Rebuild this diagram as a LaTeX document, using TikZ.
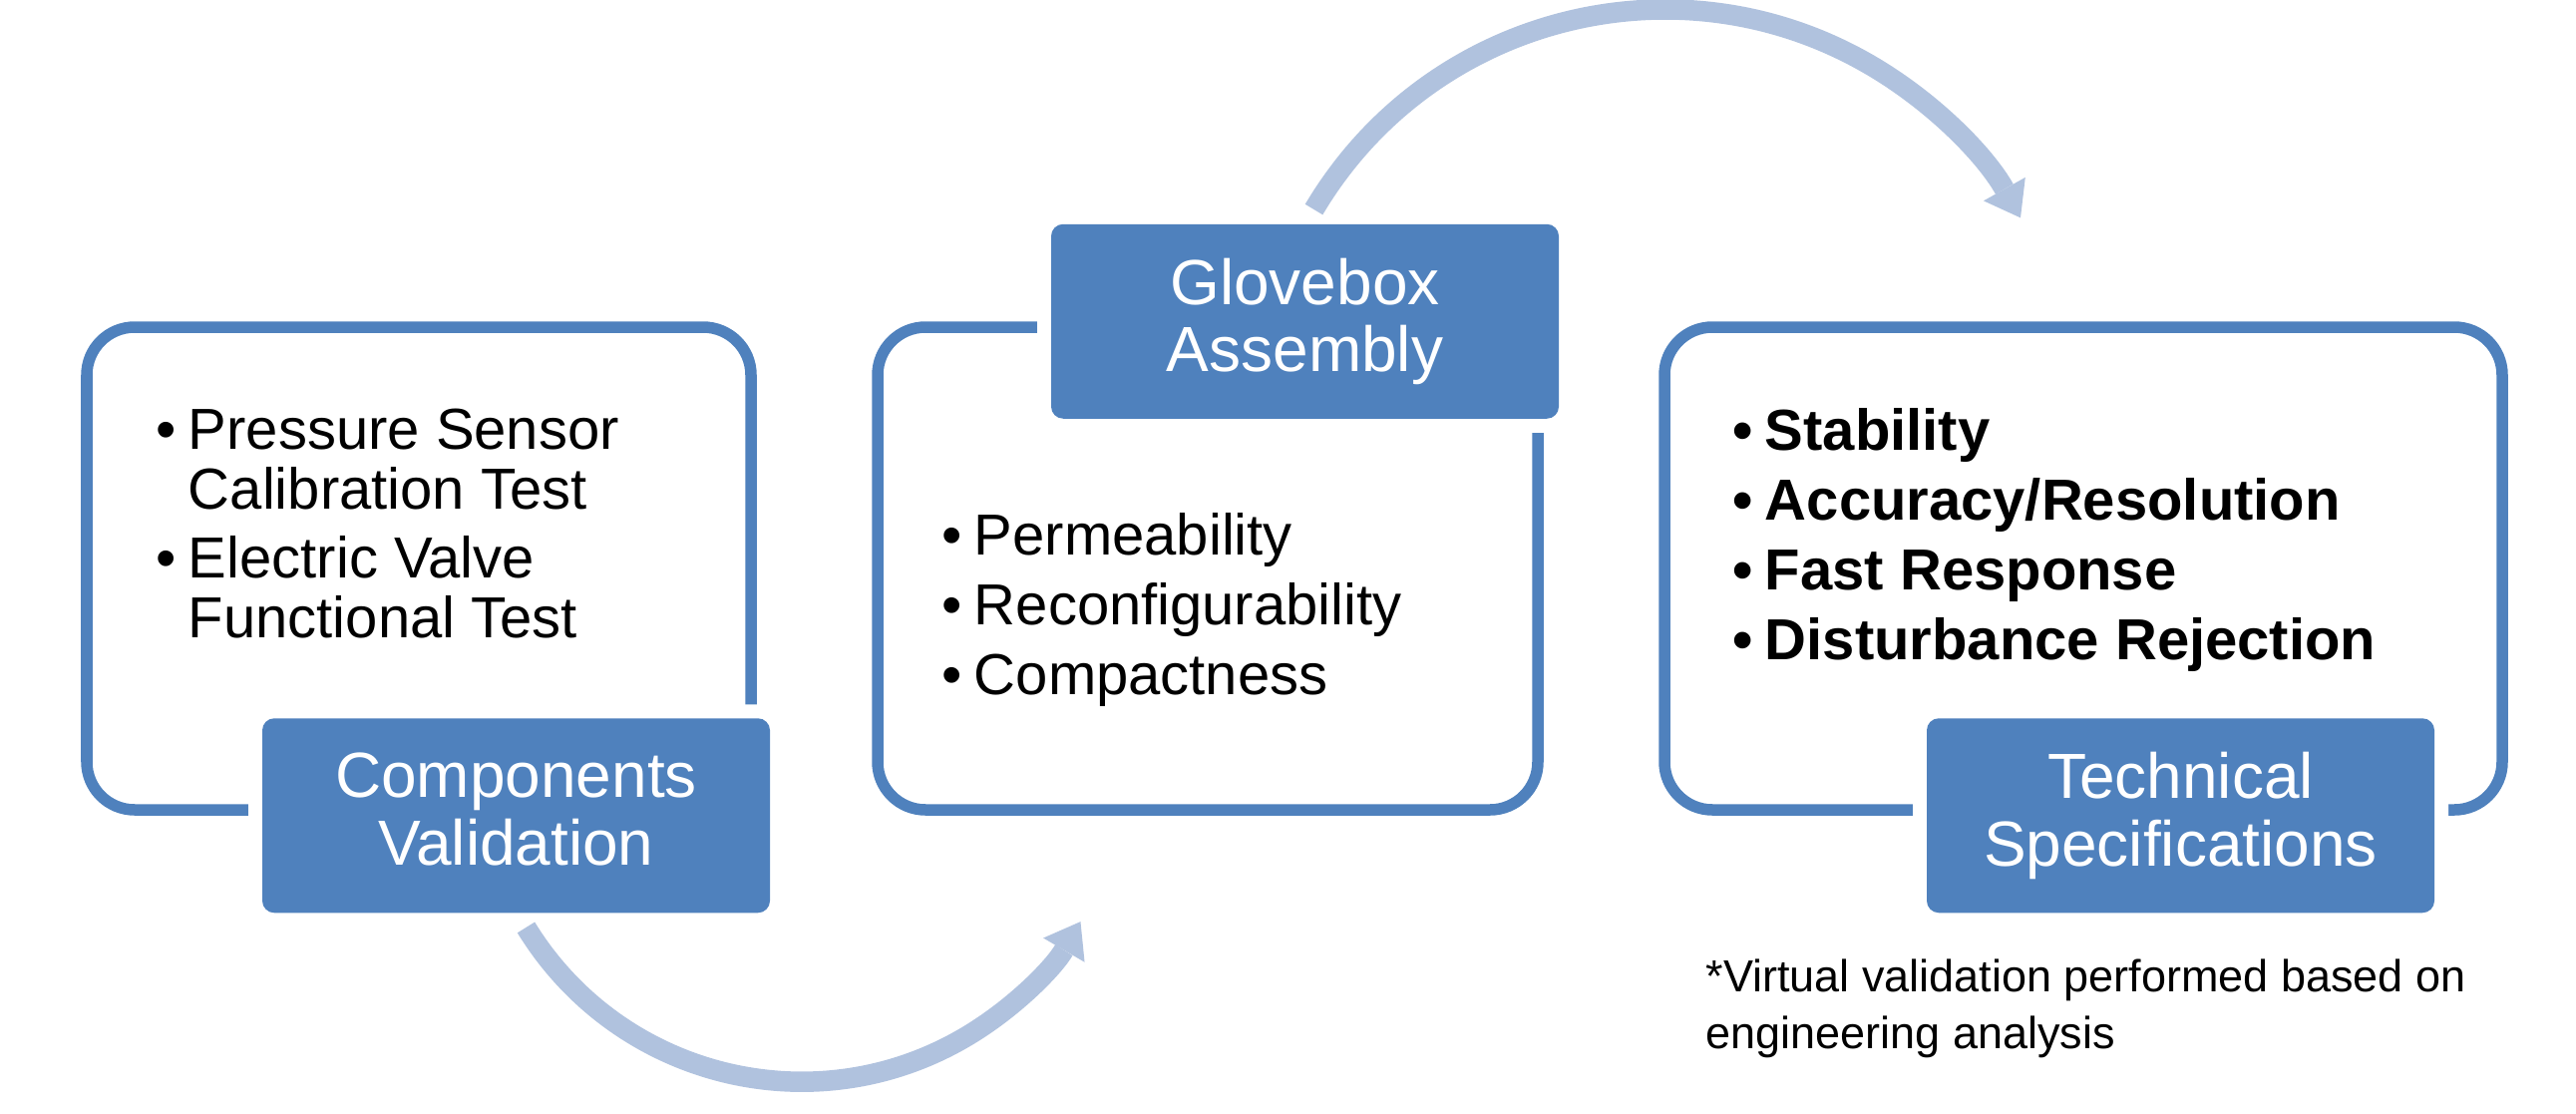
\documentclass[tikz,border=0pt]{standalone}
\usepackage{fontspec}
\setmainfont{Liberation Sans}
\usepackage{tikz}
\usetikzlibrary{arrows.meta,positioning}
\definecolor{boxblue}{HTML}{4F81BD}
\definecolor{flowblue}{HTML}{B0C2DE}
\tikzstyle{panel}=[draw=boxblue, line width=0.115cm, rounded corners=0.48cm, minimum height=4.84cm, inner sep=0pt]
\tikzstyle{tag}=[fill=boxblue, text=white, rounded corners=0.12cm, minimum width=5.09cm, minimum height=1.95cm, inner sep=0pt, align=center, font=\fontsize{18.2pt}{19.2pt}\selectfont, preaction={draw=white, line width=0.28cm}]
\tikzstyle{items}=[anchor=north west, inner sep=0pt, align=left, font=\fontsize{16.5pt}{17pt}\selectfont]
\tikzstyle{bold items}=[items, font=\fontsize{16.5pt}{17pt}\selectfont\bfseries]
\tikzstyle{flow}=[draw=flowblue, line width=0.205cm, -{Triangle[width=0.48cm, length=0.33cm, line width=0pt]}]
\tikzstyle{note}=[anchor=north west, inner sep=0pt, align=left, font=\fontsize{12.8pt}{16.2pt}\selectfont]
\newcommand{\bul}{\makebox[0.32cm][l]{\textbullet}}
\newcommand{\ind}{\hspace*{0.32cm}}

\begin{document}
\begin{tikzpicture}
		\useasboundingbox (0,0) rectangle (25.83,11.16);
		% First we draw the panels
		\foreach \pos/\label/\pw in {
			{(4.20,5.46)/p1/6.66}, {(12.11,5.46)/p2/6.62}, {(20.89,5.46)/p3/8.40}}
		\node[panel, minimum width=\pw cm] (\label) at \pos {};
		
		% Tags sit on the panel edges
		\foreach \pos/\label/\name in {
			{([xshift=0.975cm]p1.south)/l1/Components\\Validation},
			{([xshift=0.975cm]p2.north)/l2/Glovebox\\Assembly},
			{([xshift=0.975cm]p3.south)/l3/Technical\\Specifications}}
		\node[tag] (\label) at \pos {\name\vphantom{y}};
		
		% Bullet lists
		\node[items] (t1) at ([xshift=0.75cm,yshift=-0.87cm]p1.north west)
			{\bul Pressure Sensor\\\ind Calibration Test\\[0.10cm]\bul Electric Valve\\\ind Functional Test};
		\node[items] (t2) at ([xshift=0.70cm,yshift=-1.92cm]p2.north west)
			{\bul Permeability\\[0.10cm]\bul Reconfigurability\\[0.10cm]\bul Compactness};
		\node[bold items] (t3) at ([xshift=0.74cm,yshift=-0.87cm]p3.north west)
			{\bul Stability\\[0.10cm]\bul Accuracy/Resolution\\[0.10cm]\bul Fast Response\\[0.10cm]\bul Disturbance Rejection};
		\node[note] (n1) at (17.10,1.55) {*Virtual validation performed based on\\engineering analysis};
		
		% Curved arrows between the tags
		\coordinate (s1) at ([shift={(0.10,-0.14)}]l1.south);
		\coordinate (s2) at ([shift={(0.09,0.14)}]l2.north);
		\draw[flow] (s1) arc[start angle=211.5, end angle=329.7, radius=3.24];
		\draw[flow] (s2) arc[start angle=149.35, end angle=29.3, radius=4.09];
\end{tikzpicture}
\end{document}
